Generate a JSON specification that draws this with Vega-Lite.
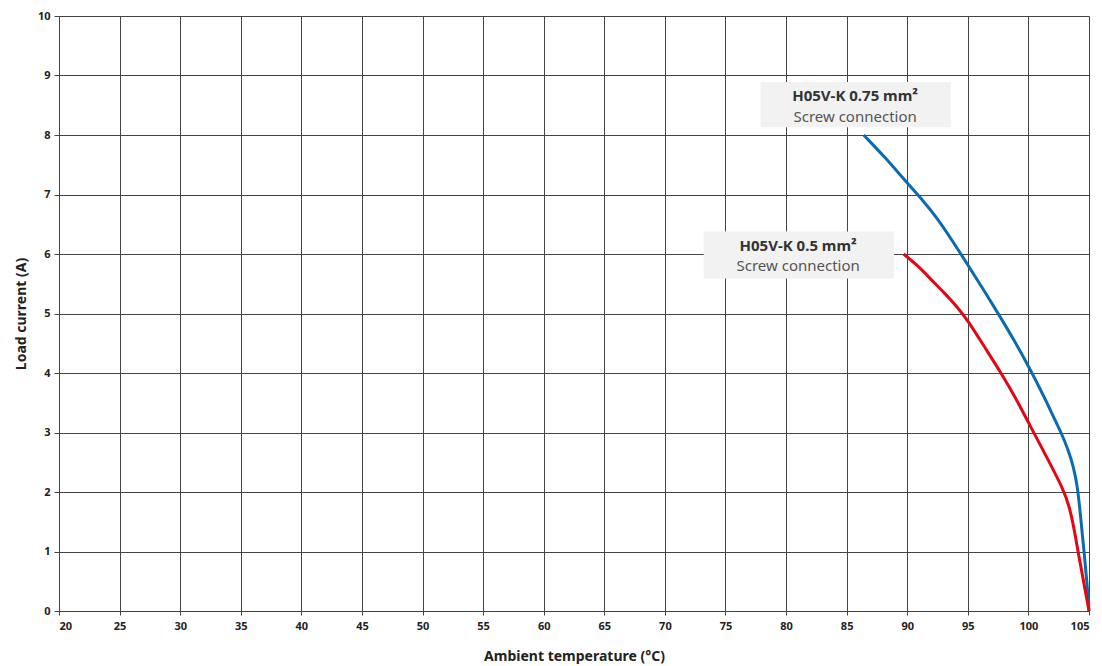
{
  "$schema": "https://vega.github.io/schema/vega-lite/v6.json",
  "width": 1030,
  "height": 595,
  "autosize": "none",
  "padding": {"left": 59, "top": 16, "right": 13, "bottom": 55},
  "background": "white",
  "config": {
    "font": "Noto Sans",
    "view": {"stroke": null},
    "axis": {
      "gridColor": "#444",
      "gridOpacity": 1,
      "gridWidth": 1,
      "domainColor": "#444",
      "tickColor": "#444",
      "labelFontWeight": "bold",
      "labelFontSize": 11,
      "labelColor": "#222",
      "titleFontWeight": "bold",
      "titleFontSize": 14,
      "titleColor": "#222"
    }
  },
  "datasets": {
    "curves": [
      {"cable": "0.75", "t": 86.4, "a": 8.0},
      {"cable": "0.75", "t": 88.2, "a": 7.62},
      {"cable": "0.75", "t": 90.0, "a": 7.19},
      {"cable": "0.75", "t": 91.3, "a": 6.9},
      {"cable": "0.75", "t": 92.45, "a": 6.61},
      {"cable": "0.75", "t": 93.8, "a": 6.2},
      {"cable": "0.75", "t": 95.05, "a": 5.8},
      {"cable": "0.75", "t": 96.3, "a": 5.4},
      {"cable": "0.75", "t": 97.5, "a": 5.0},
      {"cable": "0.75", "t": 98.8, "a": 4.56},
      {"cable": "0.75", "t": 100.1, "a": 4.08},
      {"cable": "0.75", "t": 101.3, "a": 3.6},
      {"cable": "0.75", "t": 102.1, "a": 3.25},
      {"cable": "0.75", "t": 102.7, "a": 3.0},
      {"cable": "0.75", "t": 103.3, "a": 2.7},
      {"cable": "0.75", "t": 103.7, "a": 2.44},
      {"cable": "0.75", "t": 104.05, "a": 2.1},
      {"cable": "0.75", "t": 104.3, "a": 1.6},
      {"cable": "0.75", "t": 104.6, "a": 0.98},
      {"cable": "0.75", "t": 104.85, "a": 0.45},
      {"cable": "0.75", "t": 105.0, "a": 0.0},
      {"cable": "0.5", "t": 89.7, "a": 6.0},
      {"cable": "0.5", "t": 90.9, "a": 5.8},
      {"cable": "0.5", "t": 91.97, "a": 5.57},
      {"cable": "0.5", "t": 93.1, "a": 5.34},
      {"cable": "0.5", "t": 94.17, "a": 5.1},
      {"cable": "0.5", "t": 95.05, "a": 4.87},
      {"cable": "0.5", "t": 96.4, "a": 4.43},
      {"cable": "0.5", "t": 97.75, "a": 4.0},
      {"cable": "0.5", "t": 98.9, "a": 3.6},
      {"cable": "0.5", "t": 100.1, "a": 3.13},
      {"cable": "0.5", "t": 101.6, "a": 2.55},
      {"cable": "0.5", "t": 102.85, "a": 2.06},
      {"cable": "0.5", "t": 103.4, "a": 1.75},
      {"cable": "0.5", "t": 103.8, "a": 1.35},
      {"cable": "0.5", "t": 104.1, "a": 0.99},
      {"cable": "0.5", "t": 104.55, "a": 0.5},
      {"cable": "0.5", "t": 105.0, "a": 0.0}
    ],
    "boxes": [
      {"x1": 77.9, "x2": 93.6, "y1": 8.13, "y2": 8.89},
      {"x1": 73.2, "x2": 88.9, "y1": 5.59, "y2": 6.38}
    ],
    "titles": [
      {"x": 85.7, "y": 8.66, "text": "H05V-K 0.75 mm²"},
      {"x": 81.0, "y": 6.14, "text": "H05V-K 0.5 mm²"}
    ],
    "subs": [
      {"x": 85.7, "y": 8.3, "text": "Screw connection"},
      {"x": 81.0, "y": 5.8, "text": "Screw connection"}
    ]
  },
  "layer": [
    {
      "data": {"name": "curves"},
      "mark": {"type": "line", "interpolate": "basis", "strokeWidth": 3},
      "encoding": {
        "x": {
          "field": "t", "type": "quantitative",
          "scale": {"domain": [20, 105], "nice": false},
          "axis": {"values": [20,25,30,35,40,45,50,55,60,65,70,75,80,85,90,95,100,105], "format": "d", "grid": true, "tickSize": 4, "labelPadding": 5, "title": "Ambient temperature (°C)", "titlePadding": 18}
        },
        "y": {
          "field": "a", "type": "quantitative",
          "scale": {"domain": [0, 10], "nice": false},
          "axis": {"values": [0,1,2,3,4,5,6,7,8,9,10], "format": "d", "grid": true, "tickSize": 5, "labelPadding": 4, "title": "Load current (A)", "titlePadding": 9}
        },
        "color": {
          "field": "cable", "type": "nominal",
          "scale": {"domain": ["0.75", "0.5"], "range": ["#0a6cb0", "#e30613"]},
          "legend": null
        },
        "detail": {"field": "cable"}
      }
    },
    {
      "data": {"name": "boxes"},
      "mark": {"type": "rect", "color": "#f2f2f2"},
      "encoding": {
        "x": {"field": "x1", "type": "quantitative"},
        "x2": {"field": "x2"},
        "y": {"field": "y1", "type": "quantitative"},
        "y2": {"field": "y2"}
      }
    },
    {
      "data": {"name": "titles"},
      "mark": {"type": "text", "fontSize": 15, "fontWeight": "bold", "color": "#333333", "align": "center", "baseline": "middle"},
      "encoding": {
        "x": {"field": "x", "type": "quantitative"},
        "y": {"field": "y", "type": "quantitative"},
        "text": {"field": "text"}
      }
    },
    {
      "data": {"name": "subs"},
      "mark": {"type": "text", "fontSize": 15, "color": "#555555", "align": "center", "baseline": "middle"},
      "encoding": {
        "x": {"field": "x", "type": "quantitative"},
        "y": {"field": "y", "type": "quantitative"},
        "text": {"field": "text"}
      }
    }
  ]
}
